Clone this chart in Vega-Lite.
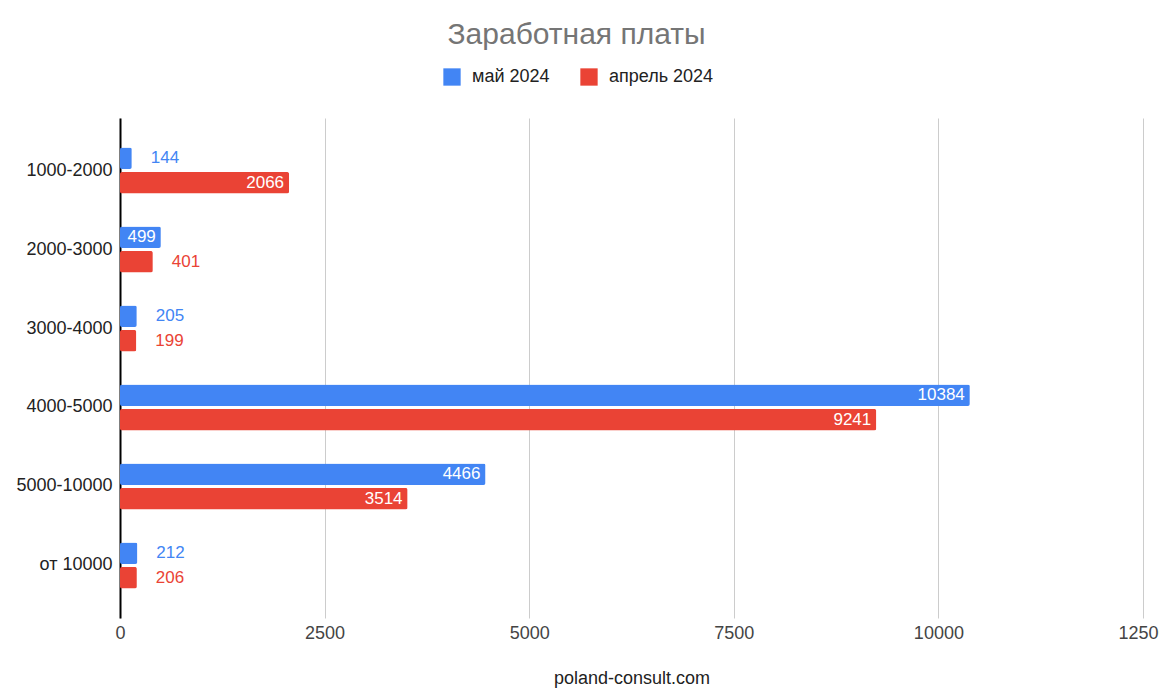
{
  "$schema": "https://vega.github.io/schema/vega-lite/v6.json",
  "width": 1023,
  "height": 500,
  "autosize": {"type": "none"},
  "padding": {"left": 120, "top": 118, "right": 16, "bottom": 73},
  "background": "white",
  "config": {
    "font": "Liberation Sans",
    "view": {"stroke": null}
  },
  "title": {
    "text": "Заработная платы",
    "fontSize": 30,
    "fontWeight": "normal",
    "color": "#757575",
    "anchor": "middle",
    "dx": -55,
    "offset": 18
  },
  "data": {
    "values": [
      {"range": "1000-2000", "series": "май 2024", "value": 144},
      {"range": "1000-2000", "series": "апрель 2024", "value": 2066},
      {"range": "2000-3000", "series": "май 2024", "value": 499},
      {"range": "2000-3000", "series": "апрель 2024", "value": 401},
      {"range": "3000-4000", "series": "май 2024", "value": 205},
      {"range": "3000-4000", "series": "апрель 2024", "value": 199},
      {"range": "4000-5000", "series": "май 2024", "value": 10384},
      {"range": "4000-5000", "series": "апрель 2024", "value": 9241},
      {"range": "5000-10000", "series": "май 2024", "value": 4466},
      {"range": "5000-10000", "series": "апрель 2024", "value": 3514},
      {"range": "от 10000", "series": "май 2024", "value": 212},
      {"range": "от 10000", "series": "апрель 2024", "value": 206}
    ]
  },
  "encoding": {
    "y": {
      "field": "range",
      "type": "nominal",
      "sort": null,
      "scale": {"paddingInner": 0.42, "paddingOuter": 0.375},
      "axis": {
        "title": null,
        "labelFontSize": 18,
        "labelColor": "#222222",
        "labelPadding": 8,
        "ticks": false,
        "domainColor": "#000000",
        "domainWidth": 2
      }
    },
    "yOffset": {
      "field": "series",
      "type": "nominal",
      "sort": ["май 2024", "апрель 2024"],
      "scale": {"paddingInner": 0.12}
    },
    "x": {
      "field": "value",
      "type": "quantitative",
      "scale": {"domain": [0, 12500], "nice": false},
      "axis": {
        "title": "poland-consult.com",
        "titleFontSize": 18,
        "titleFontWeight": "normal",
        "titleColor": "#222222",
        "titlePadding": 27,
        "values": [0, 2500, 5000, 7500, 10000, 12500],
        "format": "d",
        "labelFontSize": 18,
        "labelColor": "#444444",
        "labelPadding": 6,
        "labelFlush": false,
        "labelOverlap": false,
        "labelBound": false,
        "ticks": false,
        "domain": false,
        "gridColor": "#cccccc",
        "gridWidth": 1
      }
    }
  },
  "layer": [
    {
      "mark": {"type": "bar", "cornerRadius": 2},
      "encoding": {
        "color": {
          "field": "series",
          "type": "nominal",
          "sort": ["май 2024", "апрель 2024"],
          "scale": {"domain": ["май 2024", "апрель 2024"], "range": ["#4285F4", "#EA4335"]},
          "legend": {
            "title": null,
            "orient": "none",
            "direction": "horizontal",
            "legendX": 323,
            "legendY": -50,
            "symbolType": "square",
            "symbolSize": 300,
            "symbolStrokeWidth": 0,
            "labelFontSize": 18,
            "labelColor": "#222222",
            "columnPadding": 30,
            "labelOffset": 11
          }
        }
      }
    },
    {
      "transform": [{"filter": "datum.value > 450"}],
      "mark": {"type": "text", "align": "right", "baseline": "middle", "dx": -5, "fontSize": 17, "color": "white"},
      "encoding": {
        "text": {"field": "value", "type": "quantitative", "format": "d"}
      }
    },
    {
      "transform": [{"filter": "datum.value <= 450"}],
      "mark": {"type": "text", "align": "left", "baseline": "middle", "dx": 19, "fontSize": 17},
      "encoding": {
        "text": {"field": "value", "type": "quantitative", "format": "d"},
        "color": {
          "field": "series",
          "type": "nominal",
          "scale": {"domain": ["май 2024", "апрель 2024"], "range": ["#4285F4", "#EA4335"]},
          "legend": null
        }
      }
    }
  ]
}
